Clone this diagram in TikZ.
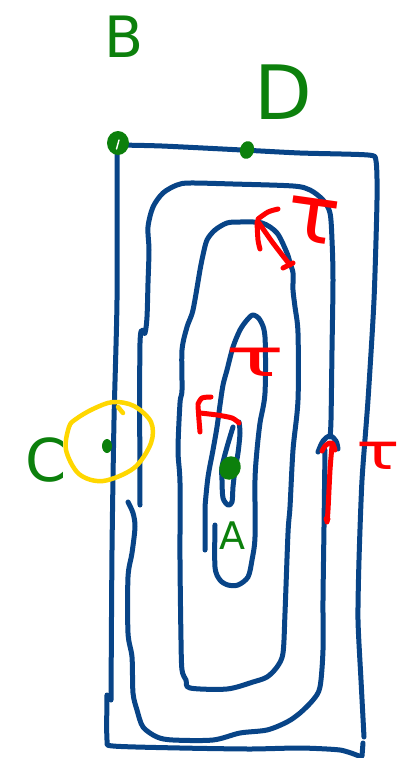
\documentclass[tikz,border=0pt]{standalone}
\usepackage{fontspec}
\setmainfont{DejaVu Sans}
\usetikzlibrary{shapes.geometric}
\definecolor{ink}{RGB}{8,68,135}
\definecolor{pen}{RGB}{12,128,12}
\definecolor{redink}{RGB}{255,0,0}
\definecolor{ring}{RGB}{255,215,0}
\tikzset{
  spiral/.style={draw=ink, line width=5pt, line cap=round, line join=round},
  redpen/.style={draw=redink, line width=5pt, line cap=round, line join=round},
  halo/.style={draw=ring, line width=4.5pt, line cap=round, line join=round},
  dot/.style={ellipse, fill=pen, inner sep=0pt},
  letter/.style={text=pen, inner sep=0pt},
  tau/.style={text=redink, inner sep=0pt},
}
\begin{document}
\begin{tikzpicture}[x=1pt,y=-1pt]
\useasboundingbox (0,0) rectangle (399,758);
\clip (0,0) rectangle (399,758);
\fill[white] (0,0) rectangle (399,758);

% outer rectangle
\draw[spiral] plot[smooth, tension=0.4] coordinates {(117,145) (162,146) (242,150) (300,153) (368,155) (376,161) (377,200) (374,300) (368,400) (362,480) (359,560) (358,620) (361,680) (364,737)};
\draw[spiral] plot[smooth, tension=0.4] coordinates {(117,145) (117,300) (114,420) (112,550) (111,700)};
\draw[spiral] plot[smooth, tension=0.4] coordinates {(107,695) (107,740) (113,746) (180,748) (250,749) (300,748) (340,750) (359,756)};
\draw[spiral] (363,743) -- (362,756);

% second turn
\draw[spiral] plot[smooth, tension=0.5] coordinates {(140,505) (140,343) (145,333) (147,317) (148,283) (149,250) (148,227) (153,207) (163,193) (177,185) (190,183) (233,184) (293,186) (310,190) (323,200) (330,213) (332,240) (333,280) (332,350) (331,420) (330,437)};
\draw[spiral] plot[smooth, tension=0.6] coordinates {(318,452) (323,441) (330,436) (336,441) (338,449)};

% third turn (open at the left)
\draw[spiral] plot[smooth, tension=0.5] coordinates {(128,502) (133,513) (135,527) (132,553) (128,577) (128,633) (132,657) (133,693) (137,710) (143,727) (157,737) (173,740) (213,740) (240,733) (267,730) (287,722) (300,713) (313,700) (320,687) (323,650) (323,600) (324,527) (325,450)};

% closed loop
\draw[spiral] plot[smooth cycle, tension=0.5] coordinates {(277,233) (262,223) (240,222) (227,223) (215,230) (207,240) (203,255) (200,270) (193,310) (187,327) (182,350) (182,390) (180,403) (178,450) (180,483) (180,560) (181,640) (182,670) (186,680) (190,688) (227,689) (253,682) (267,677) (277,667) (283,653) (285,613) (288,533) (290,507) (293,450) (298,400) (298,333) (295,307) (293,290) (293,273) (290,263) (287,253)};

% inner loop
\draw[spiral] plot[smooth, tension=0.5] coordinates {(205,550) (205,520) (205,507) (208,477) (213,450) (217,427) (220,405) (223,385) (227,370) (233,347) (240,330) (247,320) (253,315) (260,320) (265,337) (265,393) (260,423) (257,450) (255,480) (255,537) (252,560) (248,577) (238,585) (228,585) (220,580) (215,567) (215,525)};

% innermost sliver
\draw[spiral] plot[smooth, tension=0.5] coordinates {(233,427) (227,447) (222,467) (222,480) (223,498) (228,505) (232,502) (233,487) (235,470) (238,453) (240,433) (239,422)};

% yellow ring around C
\draw[halo] plot[smooth cycle, tension=0.55] coordinates {(69,427) (66,450) (79,474) (103,481) (134,468) (151,443) (151,422) (134,406) (113,402) (93,409) (76,419)};
\draw[halo] (118,407) -- (123,413);

% points
\node[dot, minimum width=22pt, minimum height=24pt] (B) at (118,143) {};
\draw[white, line width=1.4pt, line cap=round] (116.5,149) -- (119,140);
\node[dot, minimum width=14pt, minimum height=18pt, rotate=-15] (D) at (247,150) {};
\node[dot, minimum width=10pt, minimum height=14pt] (C) at (107,446) {};
\node[dot, minimum width=21pt, minimum height=24pt, rotate=-25] (A) at (230,468) {};

% labels
\node[letter, font=\fontsize{57}{60}\selectfont] (lB) at (124,37) {B};
\node[letter, font=\fontsize{75}{80}\selectfont] (lD) at (283,92) {D};
\node[letter, font=\fontsize{59}{62}\selectfont] (lC) at (46,460) {C};
\node[letter, font=\fontsize{38}{40}\selectfont] (lA) at (232,536) {A};

% shear arrows
\coordinate (t1s) at (290,265);
\coordinate (t1e) at (259,223);
\draw[redpen] plot[smooth, tension=0.5] coordinates {(t1s) (273,243) (t1e)};
\draw[redpen] (283,268) -- (293,263);
\draw[redpen] plot[smooth, tension=0.5] coordinates {(278,209) (268,212) (258,219)};
\draw[redpen] plot[smooth, tension=0.5] coordinates {(257,222) (258,240) (260,249)};

\coordinate (t2s) at (239,423);
\coordinate (t2e) at (200,413);
\draw[redpen] plot[smooth, tension=0.5] coordinates {(t2s) (232,418) (217,415) (t2e)};
\draw[redpen] plot[smooth, tension=0.5] coordinates {(211,397) (202,398) (198,404)};
\draw[redpen] plot[smooth, tension=0.5] coordinates {(198,406) (199,420) (200,432)};

\coordinate (t3s) at (327,522);
\coordinate (t3e) at (332,446);
\draw[redpen] plot[smooth, tension=0.5] coordinates {(t3s) (328,510) (330,470) (t3e)};
\draw[redpen] plot[smooth, tension=0.6] coordinates {(322,451) (326,445) (332,443) (335,450)};
\fill[redink] (327,519) circle (3.5pt);

% shear stress labels
\node[tau, font=\fontsize{80}{82}\selectfont, rotate=-8, xscale=1.1] (tau1) at (313,221) {τ};
\node[tau, font=\fontsize{52}{54}\selectfont, xscale=1.9] (tau2) at (255,362) {τ};
\node[tau, font=\fontsize{50}{52}\selectfont, xscale=1.45] (tau3) at (378,456) {τ};
\end{tikzpicture}
\end{document}
